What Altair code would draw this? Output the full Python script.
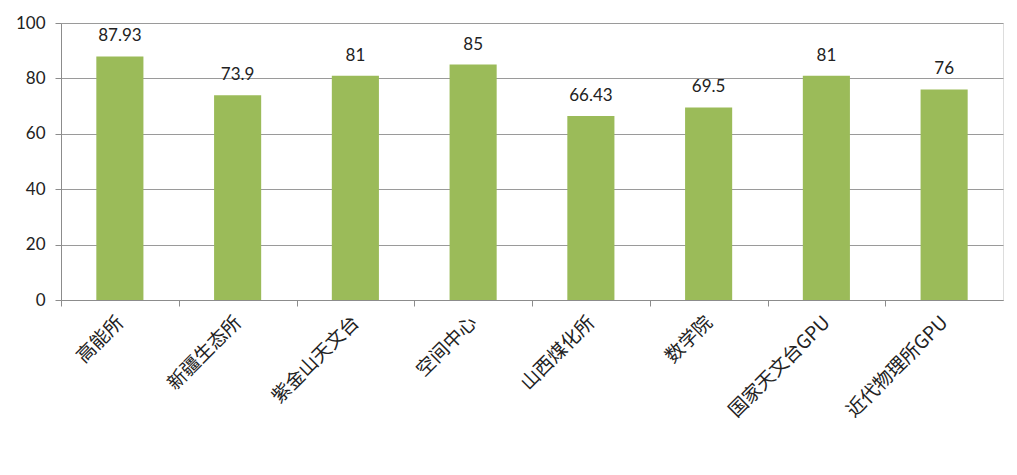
import altair as alt
import pandas as pd

categories = ["高能所", "新疆生态所", "紫金山天文台", "空间中心", "山西煤化所", "数学院", "国家天文台GPU", "近代物理所GPU"]
values = [87.93, 73.9, 81, 85, 66.43, 69.5, 81, 76]
labels = ["87.93", "73.9", "81", "85", "66.43", "69.5", "81", "76"]

df = pd.DataFrame({"cat": categories, "val": values, "lab": labels})

step = 942 / 8

x = alt.X(
    "cat:N",
    sort=categories,
    scale=alt.Scale(paddingInner=0.6, paddingOuter=0.3),
    axis=alt.Axis(
        title=None,
        labelAngle=-45,
        labelAlign="right",
        labelBaseline="middle",
        labelFont="Noto Sans CJK SC",
        labelFontSize=19,
        labelColor="#222222",
        labelPadding=13,
        tickOffset=-step / 2,
        labelOffset=step / 2,
        tickSize=6,
        tickColor="#8c8c8c",
        domainColor="#8c8c8c",
        grid=False,
    ),
)

y = alt.Y(
    "val:Q",
    scale=alt.Scale(domain=[0, 100]),
    axis=alt.Axis(
        title=None,
        values=[0, 20, 40, 60, 80, 100],
        labelFont="Lato",
        labelFontSize=17,
        labelColor="#222222",
        labelPadding=10,
        tickSize=6,
        tickColor="#8c8c8c",
        domainColor="#8c8c8c",
        gridColor="#9a9a9a",
        gridWidth=1,
    ),
)

bars = alt.Chart(df).mark_bar(color="#9BBB59").encode(x=x, y=y)
text = alt.Chart(df).mark_text(
    dy=-11, font="Lato", fontSize=17, color="#222222", baseline="bottom"
).encode(x=alt.X("cat:N", sort=categories), y="val:Q", text="lab:N")

chart = (
    alt.layer(bars, text)
    .properties(
        width=942,
        height=277,
        autosize=alt.AutoSizeParams(type="none"),
        padding={"left": 53, "top": 15, "right": 6, "bottom": 167},
    )
    .configure_view(stroke=None)
    .configure(background="white")
)

chart.save("out.html", embed_options={"renderer": "svg", "actions": False})
